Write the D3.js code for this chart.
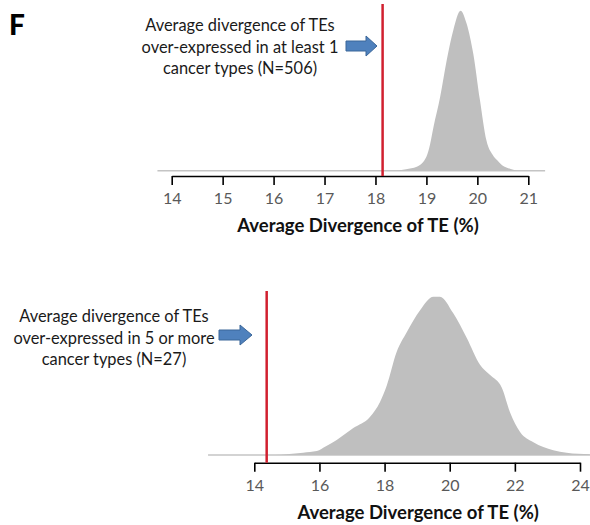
<!DOCTYPE html>
<html>
<head>
<meta charset="utf-8">
<script src="https://cdn.jsdelivr.net/npm/d3@7"></script>
<style>
  html, body { margin: 0; padding: 0; background: #fff; }
  svg { display: block; }
  text { font-family: Lato, "Open Sans", sans-serif; }
</style>
</head>
<body>
<svg id="chart" width="590" height="525"></svg>
<script>
// Density of average divergence (%), TEs over-expressed in >= 1 cancer type
const topDivergence = [18.42, 18.6, 18.81, 19.0, 19.07, 19.14, 19.27, 19.40, 19.53, 19.67, 19.79, 19.92, 20.05, 20.18, 20.3, 20.4, 20.5, 20.64, 20.77];
const topDensity    = [0.0, 0.015, 0.04, 0.14, 0.26, 0.44, 0.74, 1.11, 1.41, 1.60, 1.47, 1.17, 0.71, 0.30, 0.16, 0.10, 0.05, 0.02, 0.0];
const topTicks = [14, 15, 16, 17, 18, 19, 20, 21];
const topMarker = 18.14;   // average divergence, N=506
const topLines = ["Average divergence of TEs", "over-expressed in at least 1", "cancer types (N=506)"];

// Density of average divergence (%), TEs over-expressed in >= 5 cancer types
const botDivergence = [14.65, 15.0, 15.5, 15.92, 16.2, 16.53, 17.04, 17.55, 17.86, 18.07, 18.37, 18.68, 19.09, 19.5, 19.7, 20.11, 20.52, 20.93, 21.24, 21.6, 21.85, 22.16, 22.57, 23.18, 23.59, 24.3];
const botDensity    = [0.0, 0.001, 0.003, 0.005, 0.011, 0.019, 0.034, 0.048, 0.067, 0.088, 0.130, 0.155, 0.183, 0.200, 0.200, 0.179, 0.148, 0.114, 0.101, 0.085, 0.054, 0.029, 0.016, 0.006, 0.003, 0.001];
const botTicks = [14, 16, 18, 20, 22, 24];
const botMarker = 14.38;   // average divergence, N=27
const botLines = ["Average divergence of TEs", "over-expressed in 5 or more", "cancer types (N=27)"];

const axisTitle = "Average Divergence of TE (%)";

const svg = d3.select("#chart");

svg.append("text")
  .attr("x", 9).attr("y", 35)
  .attr("font-size", 28).attr("font-weight", 900)
  .attr("fill", "#000")
  .text("F");

function panel(cfg) {
  const x = d3.scaleLinear().domain(cfg.domain).range(cfg.xRange);
  const y = d3.scaleLinear().domain([0, cfg.yMax]).range([cfg.baseY, cfg.peakY]);
  const g = svg.append("g");

  // grey baseline under the density
  g.append("line")
    .attr("x1", x(cfg.baseExtent[0])).attr("x2", x(cfg.baseExtent[1]))
    .attr("y1", cfg.baseY).attr("y2", cfg.baseY)
    .attr("stroke", "#c4c4c4").attr("stroke-width", 1.5);

  const pts = cfg.xs.map((v, i) => [v, cfg.ys[i]]);
  const area = d3.area()
    .x(d => x(d[0]))
    .y0(cfg.baseY)
    .y1(d => y(d[1]))
    .curve(d3.curveMonotoneX);
  g.append("path").datum(pts)
    .attr("d", area)
    .attr("fill", "#bfbfbf");

  // axis
  const axis = d3.axisBottom(x)
    .tickValues(cfg.ticks)
    .tickFormat(d3.format("d"))
    .tickSizeInner(9).tickSizeOuter(0).tickPadding(8);
  const ax = g.append("g")
    .attr("transform", `translate(0,${cfg.axisY})`)
    .call(axis);
  ax.select(".domain").attr("stroke", "#000").attr("stroke-width", 1.6);
  ax.selectAll(".tick line").attr("stroke", "#000").attr("stroke-width", 1.6);
  ax.selectAll(".tick text")
    .attr("fill", "#595959").attr("font-size", 16)
    .attr("font-family", "Lato, sans-serif");

  g.append("text")
    .attr("x", (cfg.xRange[0] + cfg.xRange[1]) / 2 + cfg.titleShift)
    .attr("y", cfg.axisY + 56)
    .attr("text-anchor", "middle")
    .attr("font-size", 18.5).attr("font-weight", 700)
    .attr("fill", "#111")
    .text(axisTitle);

  // vertical marker for the group average
  g.append("line")
    .attr("x1", x(cfg.marker)).attr("x2", x(cfg.marker))
    .attr("y1", cfg.markerTop).attr("y2", cfg.axisY)
    .attr("stroke", "#d1202f").attr("stroke-width", 2.5);

  // annotation text
  const t = g.append("text")
    .attr("text-anchor", "middle")
    .attr("font-size", 16.4)
    .attr("fill", "#1a1a1a");
  cfg.lines.forEach((s, i) => {
    t.append("tspan")
      .attr("x", cfg.textX)
      .attr("y", cfg.textY + i * 21.5)
      .text(s);
  });

  // block arrow pointing at the marker
  const a = cfg.arrow;
  const arrowPath = d3.path();
  arrowPath.moveTo(a.x0, a.cy - 5);
  arrowPath.lineTo(a.xh, a.cy - 5);
  arrowPath.lineTo(a.xh, a.cy - 10);
  arrowPath.lineTo(a.x1, a.cy);
  arrowPath.lineTo(a.xh, a.cy + 10);
  arrowPath.lineTo(a.xh, a.cy + 5);
  arrowPath.lineTo(a.x0, a.cy + 5);
  arrowPath.closePath();
  g.append("path")
    .attr("d", arrowPath.toString())
    .attr("fill", "#4f81bd")
    .attr("stroke", "#3a6699").attr("stroke-width", 1);
}

panel({
  domain: [14, 21], xRange: [171.7, 528.3],
  xs: topDivergence, ys: topDensity, yMax: 1.6,
  baseY: 170.7, peakY: 10.7, axisY: 176,
  baseExtent: [13.72, 21.33],
  ticks: topTicks, marker: topMarker, markerTop: 4,
  titleShift: 8,
  lines: topLines, textX: 240, textY: 31,
  arrow: { x0: 346, xh: 366, x1: 377, cy: 46 }
});

panel({
  domain: [14, 24], xRange: [254.3, 580],
  xs: botDivergence, ys: botDensity, yMax: 0.2,
  baseY: 455, peakY: 296.7, axisY: 462.7,
  baseExtent: [12.58, 24.6],
  ticks: botTicks, marker: botMarker, markerTop: 291,
  titleShift: 1,
  lines: botLines, textX: 114, textY: 322,
  arrow: { x0: 219, xh: 240, x1: 252, cy: 335 }
});
</script>
</body>
</html>
